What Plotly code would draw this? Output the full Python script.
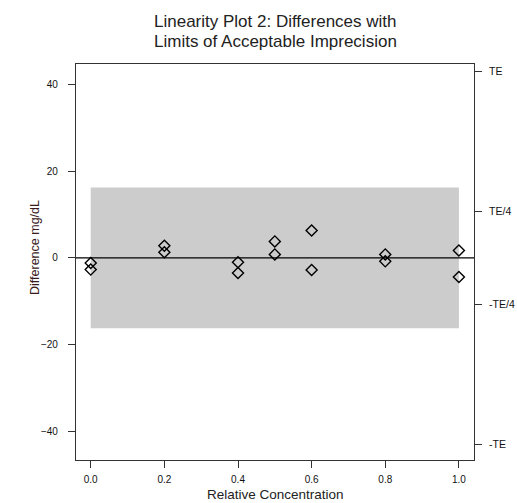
import plotly.graph_objects as go

# Data
conc = [0.0, 0.0, 0.2, 0.2, 0.4, 0.4, 0.5, 0.5, 0.6, 0.6, 0.8, 0.8, 1.0, 1.0]
diff = [-1.2, -2.7, 2.8, 1.3, -1.0, -3.5, 3.8, 0.8, 6.3, -2.8, 0.8, -0.8, 1.7, -4.4]
te = 43.0
band_limit = 16.2
left_ticks = [-40, -20, 0, 20, 40]
right_tick_vals = [te, te / 4, -te / 4, -te]
right_tick_text = ["TE", "TE/4", "-TE/4", "-TE"]
x_ticks = [0.0, 0.2, 0.4, 0.6, 0.8, 1.0]
x_tick_text = ["0.0", "0.2", "0.4", "0.6", "0.8", "1.0"]
title_lines = ["Linearity Plot 2: Differences with", "Limits of Acceptable Imprecision"]

yr = [-46.6, 44.7]
xr = [-0.04, 1.041]
font = "Liberation Sans, Arial, sans-serif"
axcol = "#333333"

fig = go.Figure()
fig.add_trace(go.Scatter(
    x=conc, y=diff, mode="markers",
    marker=dict(symbol="diamond-open", size=8.5, color="black", line=dict(width=1.4, color="black")),
    showlegend=False, cliponaxis=False))
fig.add_trace(go.Scatter(x=[None], y=[None], yaxis="y2", showlegend=False))

fig.add_shape(type="rect", xref="x", yref="y", x0=0, x1=1, y0=-band_limit, y1=band_limit,
              fillcolor="#cccccc", line=dict(width=0), layer="below")
fig.add_shape(type="line", xref="paper", yref="y", x0=0, x1=1, y0=0, y1=0,
              line=dict(color="black", width=1.2))

fig.update_layout(
    width=517, height=503,
    margin=dict(l=76, r=43, t=64, b=43, autoexpand=False),
    paper_bgcolor="white", plot_bgcolor="white",
    font=dict(family=font, color="black"),
    xaxis=dict(range=xr, tickvals=x_ticks, ticktext=x_tick_text, showgrid=False, zeroline=False,
               showline=True, linecolor=axcol, linewidth=1.3, mirror=True, automargin=False,
               ticks="outside", ticklen=7, tickcolor=axcol, tickwidth=1.3,
               ticklabelstandoff=3,
               tickfont=dict(size=10, color="#111111")),
    yaxis=dict(range=yr, tickvals=left_ticks, showgrid=False, zeroline=False,
               showline=True, linecolor=axcol, linewidth=1.3, mirror=True, automargin=False,
               ticks="outside", ticklen=7, tickcolor=axcol, tickwidth=1.3,
               ticklabelstandoff=8,
               tickfont=dict(size=10, color="#111111")),
    yaxis2=dict(range=yr, overlaying="y", side="right", tickvals=right_tick_vals, ticktext=right_tick_text,
                showgrid=False, zeroline=False, showline=False, automargin=False,
                ticks="outside", ticklen=7, tickcolor=axcol, tickwidth=1.3,
                ticklabelstandoff=5,
                tickfont=dict(size=10.5, color="#111111")),
)

fig.add_annotation(text=title_lines[0], xref="paper", yref="paper", x=0.5, y=1,
                   yanchor="middle", yshift=43, showarrow=False,
                   font=dict(size=17, family=font, color="#222222"))
fig.add_annotation(text=title_lines[1], xref="paper", yref="paper", x=0.5, y=1,
                   yanchor="middle", yshift=23, showarrow=False,
                   font=dict(size=17, family=font, color="#222222"))
fig.add_annotation(text="Relative Concentration", xref="paper", yref="paper", x=0.5, y=0,
                   yanchor="middle", yshift=-34, showarrow=False,
                   font=dict(size=13.5, family=font, color="#222222"))
fig.add_annotation(text="Difference mg/dL", xref="paper", yref="paper", x=0, y=0.5,
                   xanchor="center", xshift=-41, yshift=14, textangle=-90, showarrow=False,
                   font=dict(size=12.5, family=font, color="#3a1a1a"))

fig.write_html("out.html", config={"displayModeBar": False},
               post_script="document.body.style.margin='0';document.body.style.overflow='hidden';")
